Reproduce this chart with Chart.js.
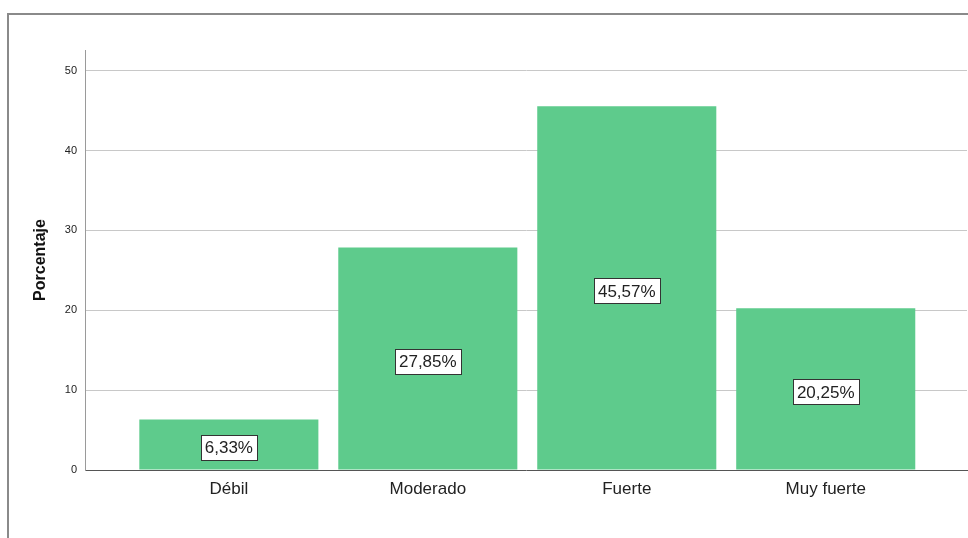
<!DOCTYPE html>
<html>
<head>
<meta charset="utf-8">
<script src="https://cdn.jsdelivr.net/npm/chart.js@4.4.1/dist/chart.umd.min.js"></script>
<style>
    html, body { margin: 0; padding: 0; background: #fff; }
    #wrap { position: relative; width: 968px; height: 538px; overflow: hidden; }
    #frame { position: absolute; left: 7px; top: 13px; width: 980px; height: 560px; border-top: 2px solid #8a8a8a; border-left: 2px solid #8a8a8a; }
    canvas { position: absolute; left: 0; top: 0; }
</style>
</head>
<body>
<div id="wrap">
    <div id="frame"></div>
    <canvas id="chart" width="968" height="538"></canvas>
</div>
<script>
const categories = ["Débil", "Moderado", "Fuerte", "Muy fuerte"];
const percentages = [6.33, 27.85, 45.57, 20.25];
const yTicks = [0, 10, 20, 30, 40, 50];

const BAR_COLOR = "#5ecb8c";
const FONT = "'Liberation Sans', Arial, sans-serif";

// etiqueta con recuadro blanco en el centro de cada barra
const valueLabels = {
    id: "valueLabels",
    afterDatasetsDraw(chart) {
        const ctx = chart.ctx;
        const meta = chart.getDatasetMeta(0);
        ctx.save();
        ctx.font = "17px " + FONT;
        ctx.textAlign = "center";
        ctx.textBaseline = "middle";
        meta.data.forEach((bar, i) => {
            const text = percentages[i].toFixed(2).replace(".", ",") + "%";
            const w = ctx.measureText(text).width + 8;
            const h = 25;
            const cx = bar.x;
            const cy = (bar.y + bar.base) / 2 + 3;
            ctx.fillStyle = "#fff";
            ctx.fillRect(Math.round(cx - w / 2) + 0.5, Math.round(cy - h / 2) + 0.5, Math.round(w), h);
            ctx.strokeStyle = "#333";
            ctx.lineWidth = 1;
            ctx.strokeRect(Math.round(cx - w / 2) + 0.5, Math.round(cy - h / 2) + 0.5, Math.round(w), h);
            ctx.fillStyle = "#222";
            ctx.fillText(text, cx, cy + 1);
        });
        ctx.restore();
    }
};

new Chart(document.getElementById("chart"), {
    type: "bar",
    data: {
        datasets: [{
            data: categories.map((c, i) => ({ x: i + 1, y: percentages[i] })),
            backgroundColor: BAR_COLOR,
            borderWidth: 0,
            categoryPercentage: 1,
            barPercentage: 0.9
        }]
    },
    options: {
        responsive: false,
        animation: false,
        layout: { padding: { top: 50, right: 1, left: 0, bottom: 0 } },
        plugins: { legend: { display: false }, tooltip: { enabled: false } },
        scales: {
            x: {
                type: "linear",
                offset: false,
                min: 0.277,
                max: 4.71,
                afterBuildTicks: s => { s.ticks = categories.map((c, i) => ({ value: i + 1 })); },
                afterFit: s => { s.height = 68; },
                ticks: {
                    callback: v => categories[v - 1],
                    font: { family: FONT, size: 17 },
                    color: "#222",
                    padding: 9,
                    maxRotation: 0,
                    autoSkip: false
                },
                grid: { display: false, drawTicks: false },
                border: { display: true, color: "#555", width: 1 }
            },
            y: {
                min: 0,
                max: 52.6,
                afterBuildTicks: s => { s.ticks = yTicks.map(v => ({ value: v })); },
                afterFit: s => { s.width = 85; },
                ticks: {
                    font: { family: FONT, size: 11 },
                    color: "#222",
                    padding: 8
                },
                grid: {
                    drawTicks: false,
                    color: c => (c.tick && c.tick.value === 0) ? "rgba(0,0,0,0)" : "#c8c8c8",
                    lineWidth: 1
                },
                border: { display: true, color: "#9a9a9a", width: 1 },
                title: {
                    display: true,
                    text: "Porcentaje",
                    font: { family: FONT, size: 16, weight: "bold" },
                    color: "#111",
                    padding: { top: 31, bottom: 0 }
                }
            }
        }
    },
    plugins: [valueLabels]
});
</script>
</body>
</html>
